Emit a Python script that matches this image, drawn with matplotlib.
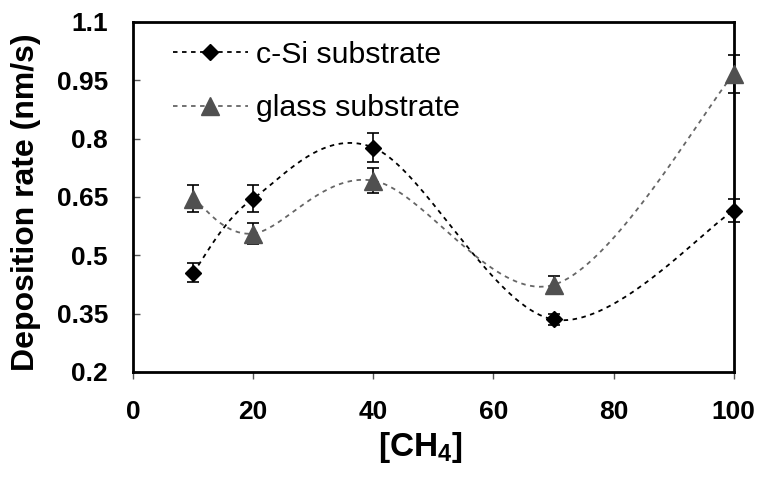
import matplotlib
matplotlib.use('Agg')
import matplotlib.pyplot as plt
from matplotlib.lines import Line2D
import numpy as np

ch4 = [10, 20, 40, 70, 100]
csi_rate = [0.455, 0.646, 0.777, 0.335, 0.615]
csi_err = [0.024, 0.034, 0.037, 0.015, 0.030]
glass_rate = [0.646, 0.556, 0.692, 0.424, 0.966]
glass_err = [0.034, 0.027, 0.033, 0.023, 0.048]
xticks = [0, 20, 40, 60, 80, 100]
yticks = [0.2, 0.35, 0.5, 0.65, 0.8, 0.95, 1.1]
ytick_labels = ['0.2', '0.35', '0.5', '0.65', '0.8', '0.95', '1.1']

plt.rcParams['font.family'] = ['Liberation Sans', 'DejaVu Sans']
plt.rcParams['mathtext.fontset'] = 'custom'
plt.rcParams['mathtext.rm'] = 'Liberation Sans:bold'
plt.rcParams['mathtext.bf'] = 'Liberation Sans:bold'


def smooth_curve(ax, xs, ys, n=40):
    # excel style smoothed line: catmull-rom bezier done in pixel space
    pts = ax.transData.transform(np.column_stack([xs, ys]))
    out = [pts[0]]
    for i in range(len(pts) - 1):
        p0 = pts[max(i - 1, 0)]
        p1 = pts[i]
        p2 = pts[i + 1]
        p3 = pts[min(i + 2, len(pts) - 1)]
        c1 = p1 + (p2 - p0) / 6
        c2 = p2 - (p3 - p1) / 6
        t = np.linspace(0, 1, n)[1:, None]
        seg = (1 - t)**3 * p1 + 3 * (1 - t)**2 * t * c1 + 3 * (1 - t) * t**2 * c2 + t**3 * p2
        out.extend(seg)
    out = ax.transData.inverted().transform(np.array(out))
    return out[:, 0], out[:, 1]


fig = plt.figure(figsize=(7.58, 4.79), dpi=100)
ax = fig.add_axes([0.1755, 0.2234, 0.7925, 0.7307])
ax.set_xlim(0, 100)
ax.set_ylim(0.2, 1.1)

glass_col = '#505050'
line_gray = '#666666'

sx, sy = smooth_curve(ax, ch4, csi_rate)
ax.plot(sx, sy, color='black', lw=1.3, ls=(0, (2.5, 2.5)), zorder=2)
gx, gy = smooth_curve(ax, ch4, glass_rate)
ax.plot(gx, gy, color=line_gray, lw=1.3, ls=(0, (2.5, 2.5)), zorder=2)

ax.errorbar(ch4, csi_rate, yerr=csi_err, fmt='none', ecolor='black',
            elinewidth=1.2, capsize=4, capthick=1.2, zorder=3, clip_on=False)
ax.errorbar(ch4, glass_rate, yerr=glass_err, fmt='none', ecolor='black',
            elinewidth=1.2, capsize=4, capthick=1.2, zorder=3, clip_on=False)
ax.plot(ch4, csi_rate, ls='none', marker='D', ms=8.5, color='black',
        zorder=4, clip_on=False)
ax.plot(ch4, glass_rate, ls='none', marker='^', ms=13, color=glass_col,
        zorder=4, clip_on=False)

handles = [
    Line2D([], [], color='black', lw=1.3, ls=(0, (2.5, 2.5)), marker='D',
           ms=8.5, markerfacecolor='black', markeredgecolor='black'),
    Line2D([], [], color=line_gray, lw=1.3, ls=(0, (2.5, 2.5)), marker='^',
           ms=13, markerfacecolor=glass_col, markeredgecolor=glass_col),
]
ax.legend(handles, ['c-Si substrate', 'glass substrate'], loc='upper left',
          bbox_to_anchor=(0.0666, 0.947), frameon=False, fontsize=21.8,
          borderpad=0, borderaxespad=0, handlelength=2.47,
          handletextpad=0.27, labelspacing=0.85, numpoints=1)

for s in ax.spines.values():
    s.set_linewidth(2)
    s.set_color('black')

ax.set_xticks(xticks)
ax.set_yticks(yticks)
ax.set_yticklabels(ytick_labels)
ax.tick_params(axis='x', direction='out', length=5, width=1, color='#555555',
               pad=15, labelsize=19)
ax.tick_params(axis='y', direction='in', length=5, width=1, color='#555555',
               pad=18, labelsize=19)
for lab in ax.get_xticklabels() + ax.get_yticklabels():
    lab.set_fontweight('bold')

ax.set_ylabel('Deposition rate (nm/s)', fontsize=23, fontweight='bold')
ax.yaxis.set_label_coords(-0.153, 0.485)
ax.set_xlabel(r'[CH$_{\mathbf{4}}$]', fontsize=24, fontweight='bold')
ax.xaxis.set_label_coords(0.478, -0.165)

fig.savefig('out.png', dpi=100)
